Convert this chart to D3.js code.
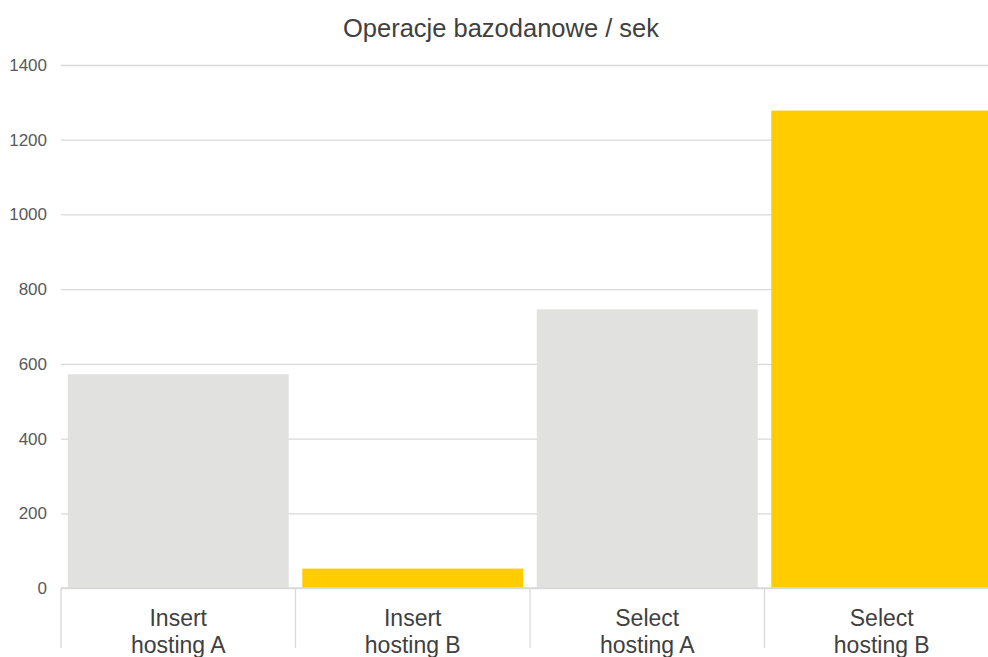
<!DOCTYPE html>
<html>
<head>
<meta charset="utf-8">
<script src="https://cdn.jsdelivr.net/npm/d3@7"></script>
<style>
  html, body { margin: 0; padding: 0; background: #ffffff; }
  svg { display: block; font-family: "Liberation Sans", Arial, sans-serif; }
</style>
</head>
<body>
<svg id="chart" width="988" height="657"></svg>
<script>
// Database operations per second, per operation type and hosting
const categories = [["Insert", "hosting A"], ["Insert", "hosting B"], ["Select", "hosting A"], ["Select", "hosting B"]];
const values = [572, 52, 746, 1278];
const barColors = ["#e1e1df", "#ffcc00", "#e1e1df", "#ffcc00"];
const yTicks = [0, 200, 400, 600, 800, 1000, 1200, 1400];
const title = "Operacje bazodanowe / sek";

(function draw() {
  const svg = d3.select("#chart");
  const plotLeft = 61, plotRight = 999, plotTop = 65, plotBottom = 588;

  const keys = categories.map(c => c.join(" "));
  const pad = 0.058;
  const x = d3.scaleBand().domain(keys).range([plotLeft, plotRight])
    .paddingInner(pad).paddingOuter(pad / 2);
  const y = d3.scaleLinear().domain([0, 1400]).range([plotBottom, plotTop]);

  // horizontal gridlines with tick labels on the left
  const yAxis = d3.axisLeft(y).tickValues(yTicks).tickFormat(d3.format("d"))
    .tickSize(-(plotRight - plotLeft)).tickPadding(14);
  const gy = svg.append("g").attr("transform", `translate(${plotLeft},0)`).call(yAxis);
  gy.select(".domain").remove();
  gy.selectAll(".tick line").attr("stroke", "#d9d9d9").attr("stroke-width", 1.3);
  gy.selectAll(".tick text").attr("fill", "#595959").style("font-size", "17px")
    .style("font-family", "'Liberation Sans', Arial, sans-serif");

  // bars
  svg.append("g").selectAll("rect").data(values).join("rect")
    .attr("x", (d, i) => x(keys[i]))
    .attr("width", x.bandwidth())
    .attr("y", d => y(d))
    .attr("height", d => y(0) - y(d))
    .attr("fill", (d, i) => barColors[i]);

  // category axis: baseline and separators between categories
  const step = x.step();
  svg.append("line")
    .attr("x1", plotLeft).attr("x2", plotRight).attr("y1", y(0)).attr("y2", y(0))
    .attr("stroke", "#d9d9d9").attr("stroke-width", 1.3);
  const seps = keys.map(k => x(k) - step * pad / 2).concat([plotRight]);
  svg.append("g").selectAll("line").data(seps).join("line")
    .attr("x1", d => d).attr("x2", d => d)
    .attr("y1", y(0)).attr("y2", y(0) + 60)
    .attr("stroke", "#d9d9d9").attr("stroke-width", 1.3);

  // two-line category labels
  const labels = svg.append("g").selectAll("text").data(categories).join("text")
    .attr("x", (d, i) => x(keys[i]) + x.bandwidth() / 2)
    .attr("y", y(0) + 38)
    .attr("text-anchor", "middle")
    .attr("fill", "#404040")
    .style("font-size", "23px");
  labels.selectAll("tspan").data(d => d).join("tspan")
    .attr("x", function () { return this.parentNode.getAttribute("x"); })
    .attr("dy", (d, i) => i === 0 ? 0 : 27)
    .text(d => d);

  // title
  svg.append("text")
    .attr("x", 501).attr("y", 37)
    .attr("text-anchor", "middle")
    .attr("fill", "#404040")
    .style("font-size", "25.5px")
    .text(title);
})();
</script>
</body>
</html>
